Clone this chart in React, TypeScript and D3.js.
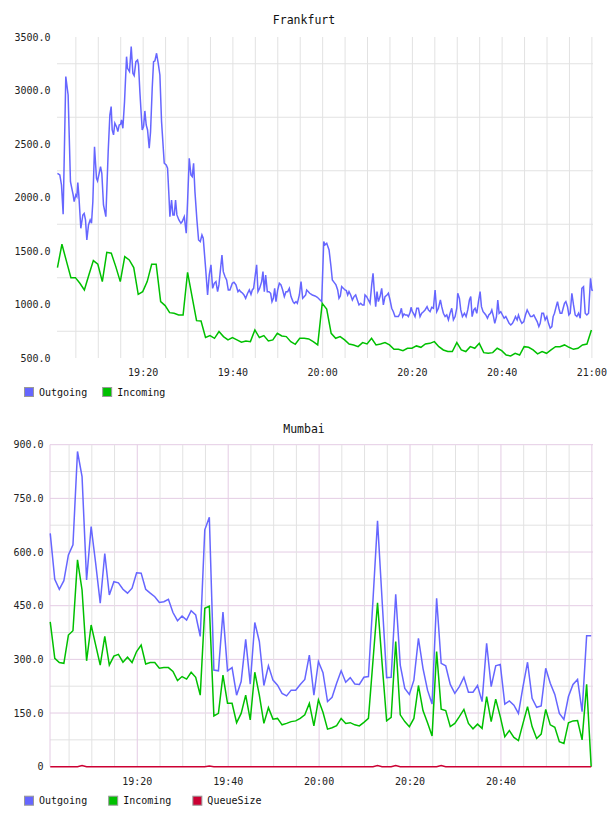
import React, { useEffect, useRef } from 'react';
import * as d3 from 'd3';

// minutes after 19:00
const START = new Date(2000, 0, 1, 19, 0, 0).getTime();
const minute = (m: number) => new Date(START + m * 60000);
const DOMAIN = [0.8, 120.25];

// Frankfurt outgoing is sampled irregularly: [minute, value]
const frankfurtOutgoing: [number, number][] = [
  [0.90, 2226], [1.43, 2211], [1.80, 2117], [2.17, 1843], [2.76, 3130], [3.28, 2958], [3.80, 2148], [4.40, 2024],
  [4.62, 1962], [4.99, 2024], [5.22, 2008], [5.44, 2139], [5.66, 2024], [6.11, 1712], [6.56, 1837], [6.85, 1852],
  [7.15, 1790], [7.45, 1603], [7.82, 1743], [8.19, 1790], [8.49, 1759], [8.79, 1962], [9.16, 2475], [9.60, 2180],
  [9.83, 2155], [10.20, 2226], [10.50, 2289], [10.79, 2226], [11.16, 1930], [11.69, 1821], [12.21, 2429], [12.58, 2771],
  [12.87, 2849], [13.10, 2631], [13.40, 2585], [13.69, 2694], [14.06, 2662], [14.36, 2616], [14.66, 2678], [14.96, 2684],
  [15.18, 2725], [15.48, 2647], [15.85, 2896], [16.30, 3316], [16.52, 3207], [16.96, 3176], [17.34, 3410], [17.71, 3161],
  [18.00, 3139], [18.38, 3270], [18.75, 3285], [18.97, 3239], [19.27, 2989], [19.49, 2834], [19.79, 2631], [20.09, 2662],
  [20.38, 2809], [20.68, 2678], [20.98, 2631], [21.35, 2460], [21.65, 2616], [22.02, 3021], [22.32, 3270], [22.61, 3276],
  [22.99, 3348], [23.36, 3254], [23.73, 3145], [24.10, 2709], [24.70, 2320], [25.14, 2304], [25.44, 2273], [25.74, 2024],
  [25.96, 1821], [26.33, 1977], [26.63, 1837], [26.93, 1837], [27.22, 1977], [27.52, 1837], [27.97, 1790], [28.41, 1759],
  [28.71, 1775], [29.16, 1821], [29.60, 1666], [29.90, 1962], [30.27, 2366], [30.64, 2211], [30.94, 2195], [31.24, 2320],
  [31.54, 2055], [31.98, 1790], [32.35, 1603], [32.73, 1588], [33.10, 1650], [33.39, 1619], [33.92, 1339], [34.36, 1089],
  [34.73, 1276], [35.11, 1370], [35.48, 1151], [35.85, 1198], [36.22, 1214], [36.59, 1120], [36.89, 1183], [37.26, 1339],
  [37.56, 1463], [37.86, 1307], [38.23, 1261], [38.60, 1229], [38.97, 1136], [39.34, 1136], [39.87, 1198], [40.24, 1208],
  [40.68, 1183], [41.13, 1120], [41.43, 1136], [41.72, 1120], [42.17, 1105], [42.47, 1089], [42.84, 1058], [43.28, 1105],
  [43.66, 1136], [44.03, 1095], [44.32, 1136], [44.62, 1151], [44.99, 1276], [45.29, 1370], [45.59, 1120], [45.96, 1151],
  [46.41, 1214], [46.70, 1307], [47.00, 1120], [47.30, 1276], [47.67, 1120], [48.04, 1120], [48.41, 1105], [48.71, 1027],
  [49.01, 1058], [49.31, 1151], [49.60, 1027], [49.98, 1136], [50.35, 1198], [50.72, 1183], [51.09, 1136], [51.46, 1074],
  [51.83, 1120], [52.21, 1120], [52.58, 1151], [52.95, 1074], [53.39, 1027], [53.69, 1011], [54.06, 1027], [54.36, 1011],
  [54.81, 1089], [55.18, 1214], [55.55, 1058], [55.92, 1074], [56.22, 1089], [56.44, 1136], [56.82, 1120], [57.11, 1105],
  [57.71, 1089], [58.30, 1080], [58.82, 1067], [59.42, 1042], [59.79, 1027], [60.24, 1588], [60.53, 1557], [60.91, 1572],
  [61.43, 1510], [61.86, 1354], [62.16, 1229], [62.60, 1204], [62.97, 1183], [63.35, 1136], [63.64, 1058], [63.94, 1080],
  [64.24, 1167], [64.61, 1151], [64.98, 1136], [65.28, 1130], [65.58, 1089], [65.87, 1120], [66.25, 1089], [66.62, 1042],
  [66.99, 1074], [67.36, 1089], [67.73, 1042], [68.10, 996], [68.48, 1011], [68.85, 996], [69.22, 996], [69.44, 1089],
  [69.81, 1074], [70.19, 1042], [70.56, 1011], [70.93, 1183], [71.23, 1292], [71.52, 1120], [71.82, 980], [72.12, 1120],
  [72.42, 1027], [72.79, 1074], [73.16, 1151], [73.53, 996], [73.90, 1074], [74.35, 1089], [74.65, 1105], [75.02, 1042],
  [75.39, 965], [75.76, 933], [76.13, 887], [76.51, 887], [76.88, 887], [77.25, 918], [77.55, 965], [77.84, 887],
  [78.14, 912], [78.44, 902], [78.81, 902], [79.11, 887], [79.48, 924], [79.70, 974], [80.00, 933], [80.30, 912],
  [80.59, 887], [80.97, 965], [81.34, 965], [81.71, 887], [82.08, 918], [82.45, 933], [82.82, 949], [83.27, 980],
  [83.57, 949], [83.94, 933], [84.31, 974], [84.68, 965], [85.06, 1136], [85.43, 933], [85.80, 965], [86.24, 1042],
  [86.54, 980], [86.91, 918], [87.29, 887], [87.66, 902], [88.03, 856], [88.40, 918], [88.77, 965], [89.14, 856],
  [89.52, 887], [89.89, 965], [90.11, 1105], [90.48, 1058], [90.78, 949], [91.15, 887], [91.60, 918], [91.97, 887],
  [92.34, 949], [92.71, 1042], [93.01, 1074], [93.31, 887], [93.68, 949], [93.98, 965], [94.35, 918], [94.72, 1027],
  [95.09, 1120], [95.39, 980], [95.76, 933], [96.06, 918], [96.36, 902], [96.73, 871], [97.03, 902], [97.40, 918],
  [97.70, 949], [98.07, 887], [98.36, 824], [98.74, 887], [99.03, 1042], [99.33, 918], [99.70, 933], [100.07, 902],
  [100.45, 871], [100.82, 887], [101.19, 856], [101.56, 824], [101.93, 809], [102.30, 824], [102.68, 856], [102.97, 887],
  [103.35, 856], [103.64, 902], [104.01, 856], [104.39, 824], [104.83, 840], [105.20, 902], [105.58, 949], [105.95, 918],
  [106.32, 887], [106.69, 887], [107.06, 902], [107.43, 871], [107.81, 840], [108.18, 793], [108.48, 824], [108.85, 918],
  [109.22, 918], [109.59, 856], [109.96, 887], [110.33, 824], [110.71, 778], [111.08, 793], [111.37, 887], [111.67, 918],
  [112.04, 980], [112.34, 1027], [112.64, 965], [112.94, 918], [113.31, 918], [113.60, 965], [113.90, 1011], [114.20, 1027],
  [114.57, 980], [114.87, 902], [115.17, 918], [115.54, 1105], [115.91, 996], [116.28, 902], [116.65, 887], [117.03, 918],
  [117.40, 871], [117.77, 1151], [118.14, 1167], [118.51, 918], [118.88, 902], [119.26, 918], [119.70, 1245], [120.00, 1136],
  [120.22, 1130],
];

// one value per minute, first sample at 19:00:54
const frankfurtStart = 0.9;
const frankfurtIncoming = [
  1345, 1563, 1405, 1251, 1251, 1198, 1136, 1276, 1410, 1376,
  1214, 1488, 1479, 1354, 1214, 1448, 1416, 1345, 1095, 1120,
  1214, 1376, 1376, 1027, 990, 924, 918, 902, 902, 1301,
  1074, 849, 846, 691, 709, 684, 747, 700, 669, 691,
  669, 647, 659, 653, 762, 691, 709, 659, 669, 731,
  706, 700, 653, 628, 684, 684, 678, 653, 622, 1011,
  958, 731, 684, 700, 669, 631, 622, 606, 644, 631,
  684, 622, 631, 644, 622, 581, 581, 569, 591, 591,
  613, 600, 631, 637, 653, 606, 575, 560, 560, 644,
  575, 560, 606, 591, 637, 550, 544, 550, 591, 569,
  528, 519, 544, 528, 606, 600, 575, 538, 560, 544,
  575, 606, 606, 622, 600, 581, 591, 622, 631, 762,
];

// one value per minute, first sample at 19:00:51
const mumbaiStart = 0.85;
const mumbaiOutgoing = [
  652, 524, 496, 520, 592, 620, 881, 811, 522, 671,
  568, 457, 596, 480, 517, 514, 496, 485, 499, 542,
  541, 496, 485, 475, 459, 461, 468, 431, 408, 421,
  410, 436, 424, 364, 662, 697, 270, 268, 432, 268,
  277, 200, 238, 356, 231, 403, 350, 227, 282, 242,
  228, 205, 198, 214, 214, 230, 244, 312, 200, 294,
  263, 182, 194, 233, 268, 236, 249, 231, 230, 250,
  252, 466, 687, 466, 249, 250, 482, 284, 219, 202,
  242, 359, 275, 214, 175, 471, 289, 282, 230, 205,
  224, 250, 208, 208, 227, 182, 345, 224, 282, 286,
  175, 184, 172, 149, 224, 292, 191, 166, 170, 275,
  233, 202, 149, 132, 196, 230, 244, 154, 366, 366,
];
const mumbaiIncoming = [
  405, 303, 291, 289, 368, 380, 578, 494, 296, 396,
  340, 284, 364, 284, 309, 314, 292, 306, 291, 322,
  340, 287, 291, 291, 275, 277, 277, 266, 241, 252,
  245, 264, 250, 200, 443, 449, 142, 149, 256, 177,
  177, 123, 149, 200, 131, 264, 200, 121, 165, 133,
  135, 117, 121, 126, 128, 135, 145, 177, 114, 187,
  152, 105, 109, 115, 135, 121, 123, 117, 114, 124,
  135, 296, 458, 290, 128, 138, 350, 145, 126, 112,
  135, 227, 157, 123, 86, 322, 161, 157, 112, 121,
  140, 160, 121, 106, 119, 107, 196, 126, 189, 140,
  84, 101, 82, 73, 121, 168, 112, 79, 91, 160,
  117, 110, 70, 65, 123, 128, 129, 75, 230, 0,
];
const mumbaiQueue = [
  0, 0, 0, 0, 0, 0, 0, 3, 0, 0,
  0, 0, 0, 0, 0, 0, 0, 0, 0, 0,
  0, 0, 0, 0, 0, 0, 0, 0, 0, 0,
  0, 0, 0, 0, 0, 2, 0, 0, 0, 0,
  0, 0, 0, 0, 0, 0, 0, 0, 0, 0,
  0, 0, 0, 0, 0, 0, 0, 0, 0, 0,
  0, 0, 0, 0, 0, 0, 0, 0, 0, 0,
  0, 0, 3, 0, 0, 0, 3, 0, 0, 0,
  0, 0, 0, 0, 0, 0, 3, 0, 0, 0,
  0, 0, 0, 0, 0, 0, 0, 0, 0, 0,
  0, 0, 0, 0, 0, 0, 0, 0, 0, 0,
  0, 0, 0, 0, 0, 0, 0, 0, 0, 0,
];

const frankfurtYTicks = [500, 1000, 1500, 2000, 2500, 3000, 3500];
const mumbaiYTicks = [0, 150, 300, 450, 600, 750, 900];
const frankfurtXLabels = ['19:20', '19:40', '20:00', '20:20', '20:40', '21:00'];
const mumbaiXLabels = ['19:20', '19:40', '20:00', '20:20', '20:40'];

const BLUE = '#6666ff';
const GREEN = '#00c000';
const RED = '#cc0033';
const MONO = '"DejaVu Sans Mono", monospace';

const perMinute = (start: number, values: number[]): [number, number][] =>
  values.map((v, i) => [start + i, v]);

type Series = { name: string; color: string; points: [number, number][] };
type ChartCfg = {
  title: string;
  titleY: number;
  left: number;
  right: number;
  top: number;
  bottom: number;
  yTicks: number[];
  xLabels: string[];
  majorGrid: string | null;
  leftBorder: boolean;
  legendY: number;
  series: Series[];
};

const charts: ChartCfg[] = [
  {
    title: 'Frankfurt', titleY: 20, left: 57, right: 593, top: 37, bottom: 358,
    yTicks: frankfurtYTicks, xLabels: frankfurtXLabels, majorGrid: null, leftBorder: false,
    legendY: 387,
    series: [
      { name: 'Outgoing', color: BLUE, points: frankfurtOutgoing },
      { name: 'Incoming', color: GREEN, points: perMinute(frankfurtStart, frankfurtIncoming) },
    ],
  },
  {
    title: 'Mumbai', titleY: 429, left: 50, right: 593, top: 444.7, bottom: 766.7,
    yTicks: mumbaiYTicks, xLabels: mumbaiXLabels, majorGrid: '#e4cce4', leftBorder: true,
    legendY: 795.7,
    series: [
      { name: 'Outgoing', color: BLUE, points: perMinute(mumbaiStart, mumbaiOutgoing) },
      { name: 'Incoming', color: GREEN, points: perMinute(mumbaiStart, mumbaiIncoming) },
      { name: 'QueueSize', color: RED, points: perMinute(mumbaiStart, mumbaiQueue) },
    ],
  },
];

function drawChart(svg: d3.Selection<SVGSVGElement, unknown, null, undefined>, cfg: ChartCfg) {
  const g = svg.append('g');
  const minorGrid = '#e2e2e2';

  const x = d3.scaleTime()
    .domain([minute(DOMAIN[0]), minute(DOMAIN[1])])
    .range([cfg.left, cfg.right]);
  const y = d3.scaleLinear()
    .domain([cfg.yTicks[0], cfg.yTicks[cfg.yTicks.length - 1]])
    .range([cfg.bottom, cfg.top]);

  // title
  g.append('text')
    .attr('x', 304).attr('y', cfg.titleY)
    .attr('text-anchor', 'middle').attr('dominant-baseline', 'middle')
    .attr('font-family', MONO).attr('font-size', 11.5).attr('fill', '#111')
    .text(cfg.title);

  // horizontal grid: minor lines half way between labelled ticks
  const step = cfg.yTicks[1] - cfg.yTicks[0];
  cfg.yTicks.slice(0, -1).forEach(v => {
    g.append('line')
      .attr('x1', cfg.left).attr('x2', cfg.right)
      .attr('y1', y(v + step / 2)).attr('y2', y(v + step / 2))
      .attr('stroke', minorGrid);
  });
  if (cfg.majorGrid) {
    cfg.yTicks.slice(1).forEach(v => {
      g.append('line')
        .attr('x1', cfg.left).attr('x2', cfg.right)
        .attr('y1', y(v)).attr('y2', y(v))
        .attr('stroke', cfg.majorGrid);
    });
  }

  // vertical grid every 5 minutes, every 20 minutes is major
  x.ticks(d3.timeMinute.every(5)!).forEach(d => {
    const major = d.getMinutes() % 20 === 0;
    const color = major && cfg.majorGrid ? cfg.majorGrid : minorGrid;
    const xp = Math.min(x(d), cfg.right - 0.5);
    g.append('line')
      .attr('x1', xp).attr('x2', xp)
      .attr('y1', cfg.top).attr('y2', cfg.bottom)
      .attr('stroke', color);
  });
  if (cfg.leftBorder) {
    g.append('line')
      .attr('x1', cfg.left).attr('x2', cfg.left)
      .attr('y1', cfg.top).attr('y2', cfg.bottom)
      .attr('stroke', cfg.majorGrid);
  }

  // series
  const line = d3.line<[number, number]>()
    .x(d => x(minute(d[0])))
    .y(d => y(d[1]));
  cfg.series.forEach(s => {
    g.append('path')
      .datum(s.points)
      .attr('d', line)
      .attr('fill', 'none')
      .attr('stroke', s.color)
      .attr('stroke-width', 1.5);
  });

  // y labels
  cfg.yTicks.forEach(v => {
    g.append('text')
      .attr('x', cfg.left - 6.5).attr('y', y(v) + 0.5)
      .attr('text-anchor', 'end').attr('dominant-baseline', 'middle')
      .attr('font-family', MONO).attr('font-size', 10).attr('fill', '#222')
      .text(v === 0 ? '0' : v.toFixed(1));
  });

  // x labels
  cfg.xLabels.forEach(s => {
    const [h, m] = s.split(':').map(Number);
    g.append('text')
      .attr('x', x(minute((h - 19) * 60 + m))).attr('y', cfg.bottom + 15)
      .attr('text-anchor', 'middle').attr('dominant-baseline', 'middle')
      .attr('font-family', MONO).attr('font-size', 10).attr('fill', '#222')
      .text(s);
  });

  // legend
  const maxLen = d3.max(cfg.series, s => s.name.length) ?? 0;
  const colW = maxLen * 6.02 + 30;
  cfg.series.forEach((s, i) => {
    const lx = 24.5 + i * colW;
    g.append('rect')
      .attr('x', lx).attr('y', cfg.legendY + 0.5)
      .attr('width', 9).attr('height', 9)
      .attr('fill', s.color).attr('stroke', '#999');
    g.append('text')
      .attr('x', lx + 14.5).attr('y', cfg.legendY + 5.5)
      .attr('dominant-baseline', 'middle')
      .attr('font-family', MONO).attr('font-size', 10).attr('fill', '#111')
      .text(s.name);
  });
}

const App = () => {
  const svgRef = useRef<SVGSVGElement>(null);

  useEffect(() => {
    const svg = d3.select(svgRef.current!);
    svg.selectAll('*').remove();
    svg.append('rect').attr('width', 608).attr('height', 816).attr('fill', '#fff');
    charts.forEach(c => drawChart(svg, c));
  }, []);

  return (
    <svg
      ref={svgRef}
      width={608}
      height={816}
      style={{ position: 'absolute', left: 0, top: 0, display: 'block' }}
    />
  );
};

export default App;
